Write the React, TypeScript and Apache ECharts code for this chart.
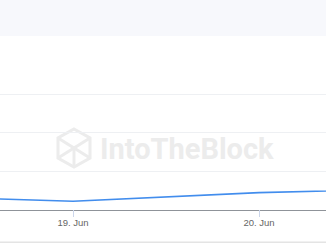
import React, { useEffect, useRef } from "react";
import * as echarts from "echarts";

// hours relative to 19 Jun 00:00
const hours = [-24, 0, 24, 48];
const values = [0.38, 0.225, 0.45, 0.57];
const dayLabels = ["18. Jun", "19. Jun", "20. Jun", "21. Jun"];

const OFF = 113; // inner chart is shifted left by this many pixels
const INNER_W = 558;

export default function App() {
  const ref = useRef<HTMLDivElement>(null);
  useEffect(() => {
    const chart = echarts.init(ref.current!, null, { renderer: "svg" });
    const wm = "#ececec";
    const p = (x: number, y: number) => [x + OFF, y];
    chart.setOption({
      animation: false,
      backgroundColor: "#ffffff",
      grid: { left: 0, right: 0, top: 94, bottom: 35, containLabel: false },
      xAxis: {
        type: "value",
        min: -24,
        max: 48,
        interval: 24,
        axisLine: { show: true, lineStyle: { color: "#8f9399", width: 1 } },
        axisTick: { show: true, length: 7, lineStyle: { color: "#ccd6eb" } },
        splitLine: { show: false },
        axisLabel: {
          margin: 7,
          color: "#666666",
          fontSize: 9.5,
          showMinLabel: false,
          showMaxLabel: false,
          fontFamily: "Liberation Sans, Arial, sans-serif",
          formatter: (v: number) => dayLabels[Math.round(v / 24) + 1] || "",
        },
      },
      yAxis: {
        type: "value",
        min: 0,
        max: 3,
        interval: 1,
        axisLine: { show: false },
        axisTick: { show: false },
        axisLabel: { show: false },
        splitLine: { lineStyle: { color: "#eef0f3", width: 1 } },
      },
      series: [
        {
          type: "line",
          data: hours.map((h, i) => [h, values[i]]),
          showSymbol: false,
          symbol: "none",
          lineStyle: { color: "#428ded", width: 1.6 },
          z: 3,
        },
      ],
      graphic: [
        { type: "rect", shape: { x: 0, y: 0, width: INNER_W, height: 36 }, style: { fill: "#f7f8fc" }, z: -1 },
        { type: "rect", shape: { x: 0, y: 241.5, width: INNER_W, height: 1.5 }, style: { fill: "#e4e4e4" }, z: 1 },
        {
          type: "polygon",
          shape: { points: [p(74, 129), p(90, 138), p(90, 158), p(74, 167), p(58, 158), p(58, 138)] },
          style: { fill: "none", stroke: wm, lineWidth: 3 },
          z: 0,
        },
        {
          type: "polyline",
          shape: { points: [p(58, 138), p(90, 158)] },
          style: { stroke: wm, lineWidth: 3, fill: "none" },
          z: 0,
        },
        {
          type: "polyline",
          shape: { points: [p(90, 138), p(58, 158)] },
          style: { stroke: wm, lineWidth: 3, fill: "none" },
          z: 0,
        },
        {
          type: "polyline",
          shape: { points: [p(74, 148), p(74, 167)] },
          style: { stroke: wm, lineWidth: 3, fill: "none" },
          z: 0,
        },
        {
          type: "text",
          x: 100 + OFF,
          y: 149,
          style: {
            text: "IntoTheBlock",
            fill: wm,
            font: "bold 29px Roboto, sans-serif",
            verticalAlign: "middle",
          },
          z: 0,
        },
      ],
    });
    return () => chart.dispose();
  }, []);
  return (
    <div style={{ position: "fixed", left: 0, top: 0, width: 326, height: 245, overflow: "hidden", background: "#fff" }}>
      <div ref={ref} style={{ position: "absolute", left: -OFF, top: 0, width: INNER_W, height: 245 }} />
    </div>
  );
}
